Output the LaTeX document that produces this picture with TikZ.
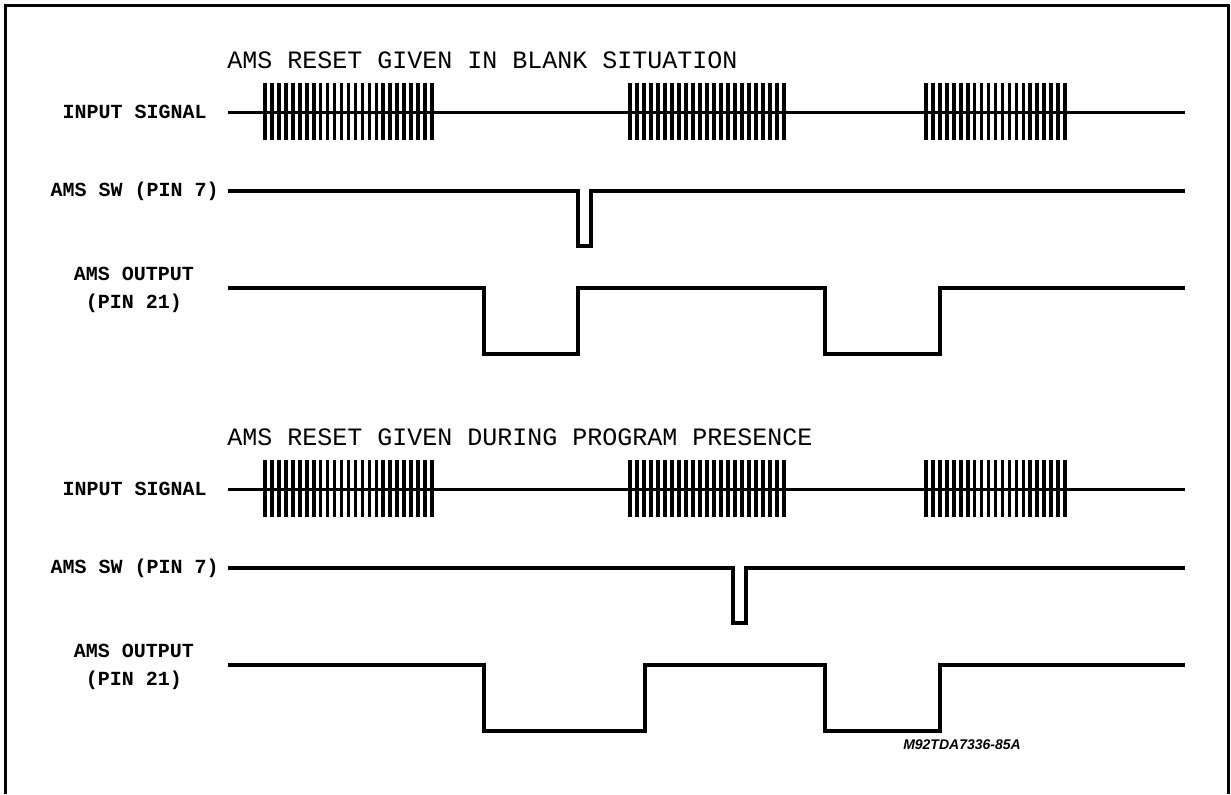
\documentclass[tikz,border=0pt]{standalone}
\usepackage{fontspec}
\setmonofont{Liberation Mono}
\setsansfont{Liberation Sans}

\tikzset{
  wave/.style={line width=2pt, line join=miter},
  bar/.style={line width=1.8pt},
  lbl/.style={font=\ttfamily\bfseries\fontsize{10}{12}\selectfont, inner sep=0pt},
  ttl/.style={font=\ttfamily\fontsize{12.5}{14}\selectfont, anchor=west, inner sep=0pt}
}

\begin{document}
\begin{tikzpicture}[x=0.5pt, y=-0.5pt]
    \useasboundingbox (0,0) rectangle (1231,794); % frame size
    \draw[line width=1.5pt] (5,794) -- (5,5) -- (1228,5) -- (1228,794);
    \foreach \dy/\title/\sw/\up in {0/{AMS RESET GIVEN IN BLANK SITUATION}/578/578,
                                   377/{AMS RESET GIVEN DURING PROGRAM PRESENCE}/733/645} {
      \begin{scope}[shift={(0,\dy)}]
        \node[ttl] (title) at (227,60) {\title};
        \node[lbl, anchor=east] (in) at (207,112) {INPUT SIGNAL};
        \node[lbl, anchor=east] (sw) at (219,191) {AMS SW (PIN 7)};
        \node[lbl, align=center] (out) at (134,290) {AMS OUTPUT\\[2pt](PIN 21)};
        % input signal with bursts
        \draw[line width=1.5pt] (228,112) -- (1185,112);
        \foreach \a/\b/\n in {265/432/24, 630/784/22, 926/1065/20}
          \foreach \i in {0,...,\n}
            \draw[bar] ({\a+\i*(\b-\a)/\n},83) -- ++(0,57);
        % switch pulse
        \draw[wave] (228,191) -| (\sw,246) -| ({\sw+13},191) -- (1185,191);
        % output
        \draw[wave] (228,288) -| (484,354) -| (\up,288) -| (825,354) -| (940,288) -- (1185,288);
      \end{scope}
    }
    \node[font=\sffamily\bfseries\itshape\fontsize{7}{8}\selectfont, inner sep=0pt] (code) at (962,745) {M92TDA7336-85A};
\end{tikzpicture}
\end{document}
